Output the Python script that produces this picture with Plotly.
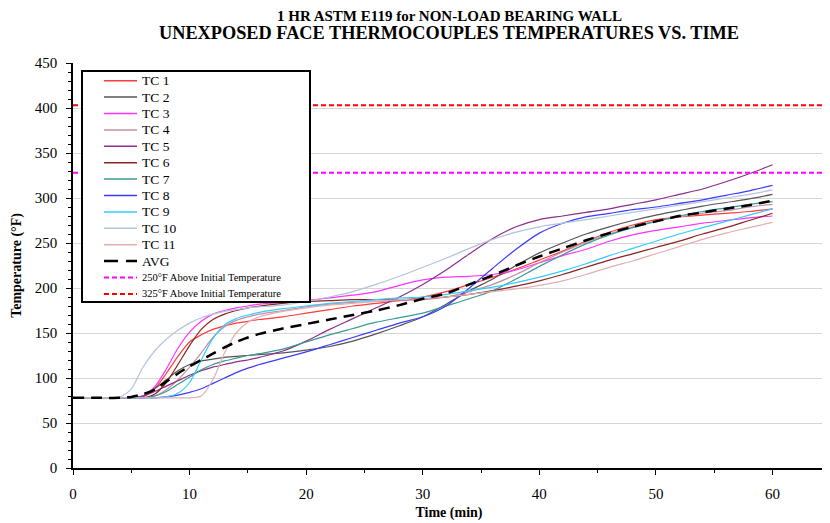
import plotly.graph_objects as go

time_min = [0, 2, 4, 5, 6, 7, 8, 9, 10, 11, 12, 13, 14, 15, 16, 18, 20, 22, 24, 26, 28,
            30, 32, 34, 36, 38, 40, 42, 44, 46, 48, 50, 52, 54, 56, 58, 60]

tc1 = [78, 78, 78, 78, 79, 88, 105, 124, 140, 148, 154, 158, 161, 163, 165, 168, 172, 176, 180, 183, 186,
       190, 196, 204, 212, 221, 231, 241, 252, 262, 270, 276, 279, 281, 283, 285, 288]
tc2 = [78, 78, 78, 78, 80, 88, 98, 108, 115, 119, 121, 123, 124, 125, 126, 128, 131, 135, 141, 149, 158,
       168, 182, 197, 210, 225, 239, 250, 260, 268, 275, 281, 286, 291, 295, 299, 304]
tc3 = [78, 78, 78, 78, 80, 90, 110, 133, 151, 163, 171, 175, 178, 180, 182, 184, 186, 189, 192, 196, 203,
       209, 212, 213, 215, 220, 228, 236, 243, 252, 259, 264, 268, 272, 275, 278, 280]
tc4 = [78, 78, 78, 78, 78, 80, 87, 98, 112, 128, 145, 157, 164, 168, 171, 175, 179, 182, 184, 185, 186,
       187, 190, 196, 204, 215, 228, 240, 251, 260, 268, 274, 279, 283, 286, 290, 293]
tc5 = [78, 78, 78, 78, 80, 85, 91, 97, 103, 108, 112, 115, 118, 120, 123, 130, 141, 154, 166, 178, 190,
       204, 220, 238, 255, 268, 276, 280, 284, 288, 293, 298, 304, 310, 318, 327, 337]
tc6 = [78, 78, 78, 78, 78, 82, 95, 115, 136, 154, 165, 171, 175, 178, 180, 183, 185, 186, 187, 187, 187,
       188, 190, 193, 197, 202, 208, 215, 223, 231, 238, 245, 252, 260, 267, 275, 283]
tc7 = [78, 78, 78, 78, 78, 80, 85, 93, 101, 109, 115, 119, 122, 125, 127, 132, 140, 148, 155, 162, 167,
       172, 180, 188, 197, 210, 224, 237, 249, 259, 267, 274, 280, 285, 289, 293, 296]
tc8 = [78, 78, 78, 78, 78, 78, 79, 81, 84, 88, 94, 100, 106, 111, 115, 122, 129, 137, 145, 153, 161,
       168, 180, 200, 222, 243, 261, 272, 279, 283, 287, 290, 294, 298, 303, 308, 314]
tc9 = [78, 78, 78, 78, 78, 78, 79, 83, 95, 120, 144, 159, 166, 170, 173, 177, 180, 183, 185, 187, 189,
       190, 193, 197, 201, 206, 212, 219, 227, 236, 244, 252, 260, 267, 274, 281, 288]
tc10 = [78, 78, 79, 88, 112, 130, 143, 153, 161, 167, 171, 174, 176, 178, 179, 181, 185, 190, 196, 204, 213,
        223, 233, 244, 254, 262, 268, 272, 276, 280, 284, 288, 292, 296, 300, 304, 309]
tc11 = [78, 78, 78, 78, 78, 78, 78, 78, 78, 80, 98, 128, 150, 162, 168, 174, 178, 181, 183, 185, 187,
        188, 190, 193, 196, 199, 203, 208, 215, 223, 230, 238, 246, 254, 261, 267, 273]
avg = [78, 78, 78, 79, 82, 87, 96, 105, 113, 120, 127, 134, 140, 145, 149, 155, 160, 165, 170, 175, 181,
       188, 194, 204, 214, 225, 235, 244, 253, 261, 268, 274, 280, 284, 288, 292, 297]

limit_x = [0, 64.5]
limit_250 = 328
limit_325 = 403

series_names = ["TC 1", "TC 2", "TC 3", "TC 4", "TC 5", "TC 6", "TC 7", "TC 8", "TC 9", "TC 10", "TC 11"]
series_values = [tc1, tc2, tc3, tc4, tc5, tc6, tc7, tc8, tc9, tc10, tc11]
series_colors = ["#FF3B3B", "#555555", "#FF33FF", "#C48FA6", "#8E2D8E", "#8B2323",
                 "#3A9A96", "#3B3BFF", "#33CCFF", "#B4C3DE", "#E2AFAF"]
limit_names = ["250°F Above Initial Temperature", "325°F Above Initial Temperature"]
limit_colors = ["#FF00FF", "#FF0000"]

FONT = "Liberation Serif, Times New Roman, serif"

# page body has an 8px margin; size the figure so it fits in the 830x523 window
OFF = 8
W, H = 830 - OFF, 523 - OFF
ML, MR, MT, MB = 73 - OFF, 5, 63 - OFF, 523 - 468
PW, PH = W - ML - MR, H - MT - MB


def px(xw):
    """window x pixel -> paper fraction"""
    return (xw - OFF - ML) / PW


def py(yw):
    """window y pixel -> paper fraction"""
    return (H - MB - (yw - OFF)) / PH


fig = go.Figure()
for name, vals, col in zip(series_names, series_values, series_colors):
    fig.add_trace(go.Scatter(x=time_min, y=vals, name=name, mode="lines", showlegend=False,
                             line=dict(color=col, width=1.2, shape="spline", smoothing=0.8)))

fig.add_trace(go.Scatter(x=time_min, y=avg, name="AVG", mode="lines", showlegend=False,
                         line=dict(color="black", width=2.5, dash="11px,7px", shape="spline", smoothing=0.8)))
for nm, lv, col in zip(limit_names, [limit_250, limit_325], limit_colors):
    fig.add_trace(go.Scatter(x=limit_x, y=[lv, lv], mode="lines", name=nm, showlegend=False,
                             line=dict(color=col, width=2, dash="5px,3px")))

# legend (box, sample lines and labels)
shapes = [dict(type="line", xref="paper", yref="paper", x0=1, x1=1, y0=0, y1=1,
               line=dict(color="#777777", width=1), layer="above"),
          dict(type="rect", xref="paper", yref="paper", x0=px(82), x1=px(310), y0=py(302), y1=py(71),
               fillcolor="white", line=dict(color="black", width=2), layer="above")]
annotations = [
    dict(text="<b>1 HR ASTM E119 for NON-LOAD BEARING WALL</b>", x=0.5, y=py(16),
         xref="paper", yref="paper", showarrow=False, xanchor="center", yanchor="middle",
         font=dict(family=FONT, size=15, color="black")),
    dict(text="<b>UNEXPOSED FACE THERMOCOUPLES TEMPERATURES VS. TIME</b>", x=0.5, y=py(33),
         xref="paper", yref="paper", showarrow=False, xanchor="center", yanchor="middle",
         font=dict(family=FONT, size=18.3, color="black")),
]

entries = ([(n, c, "solid", 1.5, 13.5) for n, c in zip(series_names, series_colors)]
           + [("AVG", "black", "14px,8px", 2.5, 13.5)]
           + [(n, c, "5px,3px", 2, 10.5) for n, c in zip(limit_names, limit_colors)])
y0, step = 80.7, 16.4
for i, (nm, col, dash, lw, fs) in enumerate(entries):
    yc = y0 + i * step
    shapes.append(dict(type="line", xref="paper", yref="paper", x0=px(104), x1=px(137),
                       y0=py(yc), y1=py(yc), line=dict(color=col, width=lw, dash=dash), layer="above"))
    annotations.append(dict(text=nm, x=px(140), y=py(yc), xref="paper", yref="paper",
                            showarrow=False, xanchor="left", yanchor="middle",
                            font=dict(family=FONT, size=fs, color="black")))

fig.update_layout(
    width=W, height=H,
    margin=dict(l=ML, r=MR, t=MT, b=MB),
    paper_bgcolor="white", plot_bgcolor="white",
    font=dict(family=FONT, color="black", size=14),
    showlegend=False,
    annotations=annotations,
    shapes=shapes,
)

fig.update_xaxes(range=[0, 64.5], dtick=10, tick0=0, showgrid=False, zeroline=False, automargin=False,
                 showline=True, linecolor="black", linewidth=1.5,
                 ticks="outside", ticklen=5, tickcolor="black", ticklabelstandoff=6,
                 minor=dict(dtick=5, ticks="outside", ticklen=3, tickcolor="black", showgrid=False),
                 tickfont=dict(family=FONT, size=15),
                 title=dict(text="<b>Time (min)</b>", font=dict(family=FONT, size=14), standoff=6))
fig.update_yaxes(range=[0, 450], dtick=50, tick0=0, showgrid=True, gridcolor="#D6D6D6", gridwidth=1,
                 zeroline=False, showline=True, linecolor="black", linewidth=1.5, automargin=False,
                 ticks="outside", ticklen=5, tickcolor="black", ticklabelstandoff=6,
                 minor=dict(dtick=10, ticks="outside", ticklen=3, tickcolor="black", showgrid=False),
                 tickfont=dict(family=FONT, size=15),
                 title=dict(text="<b>Temperature (°F)</b>", font=dict(family=FONT, size=14), standoff=10))

fig.write_html("out.html")
